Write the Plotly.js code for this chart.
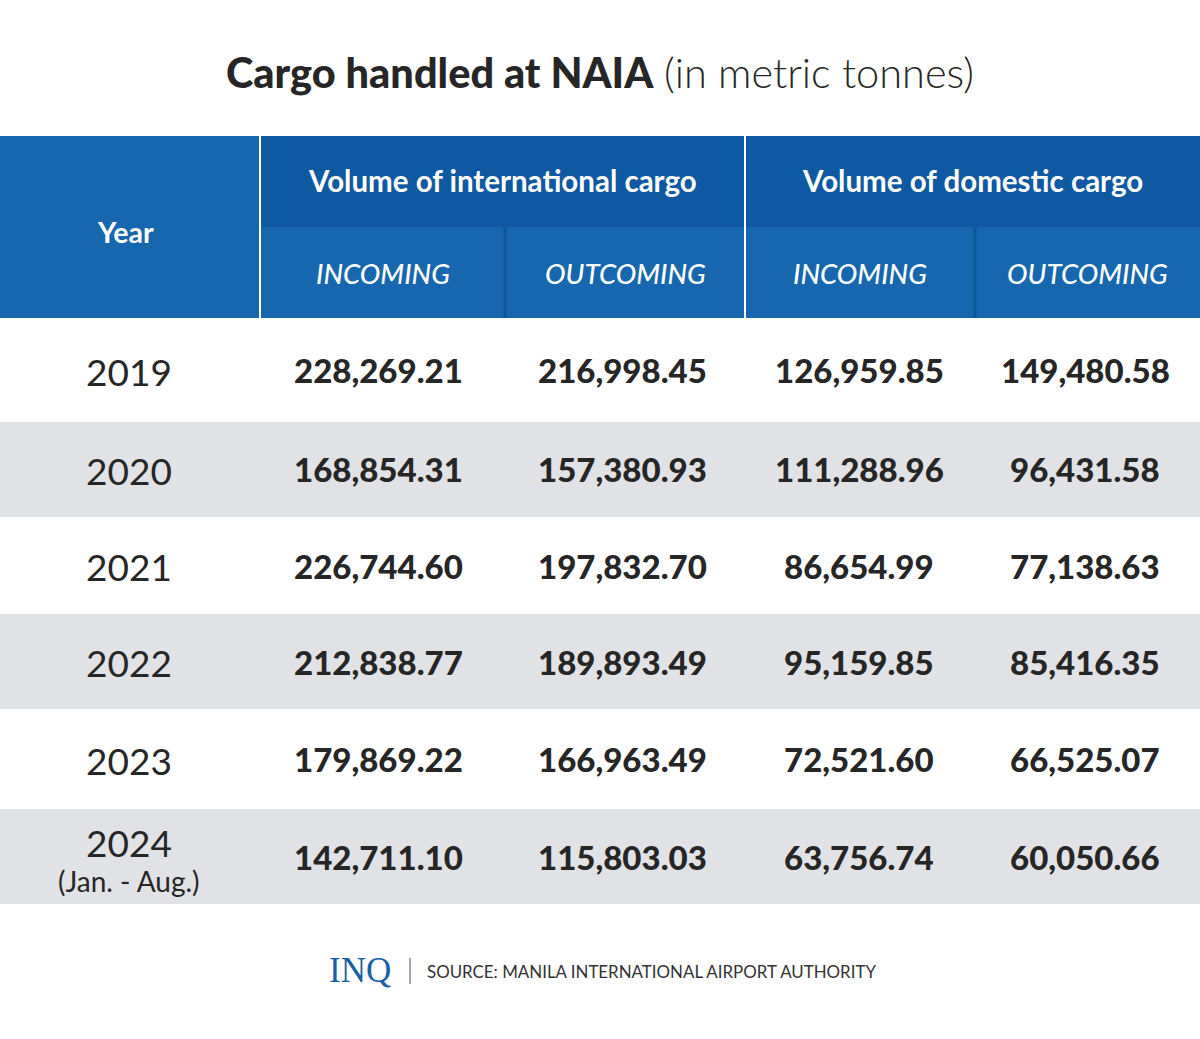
<!DOCTYPE html>
<html>
<head>
<meta charset="utf-8">
<script src="https://cdn.plot.ly/plotly-3.0.1.min.js"></script>
<style>html,body{margin:0;padding:0;background:#fff;}#chart{width:1200px;height:1039px;}</style>
</head>
<body>
<div id="chart"></div>
<script>
// ---- Data ----
const years = ['2019', '2020', '2021', '2022', '2023', '2024'];
const yearNotes = ['', '', '', '', '', '(Jan. - Aug.)'];
const intlIncoming = [228269.21, 168854.31, 226744.60, 212838.77, 179869.22, 142711.10];
const intlOutcoming = [216998.45, 157380.93, 197832.70, 189893.49, 166963.49, 115803.03];
const domIncoming = [126959.85, 111288.96, 86654.99, 95159.85, 72521.60, 63756.74];
const domOutcoming = [149480.58, 96431.58, 77138.63, 85416.35, 66525.07, 60050.66];
const groupHeaders = ['Volume of international cargo', 'Volume of domestic cargo'];
const subHeaders = ['INCOMING', 'OUTCOMING', 'INCOMING', 'OUTCOMING'];
const yearHeader = 'Year';
const titleMain = 'Cargo handled at NAIA';
const titleSub = '(in metric tonnes)';
const sourceText = 'SOURCE: MANILA INTERNATIONAL AIRPORT AUTHORITY';
const logoText = 'INQ';

// ---- Layout geometry / styles ----
const W = 1200, H = 1039;
const px = v => v / W;
const py = v => 1 - v / H;
const colEdges = [0, 260, 505, 745, 975, 1200];
const headerTop = 136, headerMid = 227, headerBottom = 318;
const rowEdges = [318, 422, 517, 614, 709, 809, 904];
const yearCenterX = 129;
const numCenterX = [378, 622, 859, 1085];
const blueLight = '#1767ae';
const blueDark = '#0e59a1';
const grayRow = '#e1e2e5';
const textDark = '#262626';
const FONT = 'Lato, "Open Sans", sans-serif';

const fmt = v => v.toLocaleString('en-US', {minimumFractionDigits: 2, maximumFractionDigits: 2});

const shapes = [];
const annotations = [];

function rect(x0, y0, x1, y1, color) {
  shapes.push({type: 'rect', xref: 'paper', yref: 'paper', x0: px(x0), x1: px(x1), y0: py(y1), y1: py(y0),
    fillcolor: color, line: {width: 0}, layer: 'below'});
}
function line(x0, y0, x1, y1, color, w) {
  shapes.push({type: 'line', xref: 'paper', yref: 'paper', x0: px(x0), x1: px(x1), y0: py(y0), y1: py(y1),
    line: {color: color, width: w}, layer: 'above'});
}
function text(t, x, y, font, opts) {
  annotations.push(Object.assign({text: t, xref: 'paper', yref: 'paper', x: px(x), y: py(y),
    xanchor: 'center', yanchor: 'middle', showarrow: false,
    font: Object.assign({family: FONT}, font)}, opts || {}));
}

// Header backgrounds
rect(0, headerTop, 1200, headerBottom, blueLight);
rect(colEdges[1], headerTop, 1200, headerMid, blueDark);
// subtle column separators in lower header band
line(colEdges[2], headerMid, colEdges[2], headerBottom, '#0f5797', 3);
line(colEdges[4], headerMid, colEdges[4], headerBottom, '#0f5797', 3);
// white separators
line(colEdges[1], headerTop, colEdges[1], headerBottom, '#ffffff', 2);
line(colEdges[3], headerTop, colEdges[3], headerBottom, '#ffffff', 2);

// Header text
text(yearHeader, 125, 232, {size: 28.5, color: '#ffffff', weight: 700});
text(groupHeaders[0], (colEdges[1] + colEdges[3]) / 2, 180, {size: 29.5, color: '#ffffff', weight: 700});
text(groupHeaders[1], (colEdges[3] + colEdges[5]) / 2, 180, {size: 29.5, color: '#ffffff', weight: 700});
subHeaders.forEach((h, i) => {
  text(h, (colEdges[i + 1] + colEdges[i + 2]) / 2, 273, {size: 27.5, color: '#ffffff', style: 'italic', weight: 500});
});

// Body rows
const series = [intlIncoming, intlOutcoming, domIncoming, domOutcoming];
years.forEach((yr, r) => {
  const y0 = rowEdges[r], y1 = rowEdges[r + 1];
  if (r % 2 === 1) rect(0, y0, 1200, y1, grayRow);
  const cy = (y0 + y1) / 2;
  if (yearNotes[r]) {
    text(yr, yearCenterX, cy - 14, {size: 37, color: textDark, weight: 400});
    text(yearNotes[r], yearCenterX, cy + 24, {size: 28, color: textDark, weight: 400});
  } else {
    text(yr, yearCenterX, cy + 1, {size: 37, color: textDark, weight: 400});
  }
  series.forEach((s, c) => {
    text(fmt(s[r]), numCenterX[c], cy, {size: 33, color: textDark, weight: 900});
  });
});

// Footer
text(logoText, 360, 970, {family: '"Liberation Serif", "DejaVu Serif", serif', size: 35, color: '#1b5fa6'});
line(410, 958, 410, 984, '#888888', 1.5);
text(sourceText, 425, 971, {size: 16.9, color: '#333333'}, {xanchor: 'left'});

const layout = {
  width: W, height: H,
  margin: {l: 0, r: 0, t: 0, b: 0},
  paper_bgcolor: '#ffffff', plot_bgcolor: '#ffffff',
  title: {
    text: '<span style="font-weight:900">' + titleMain + '</span> <span style="font-weight:300">' + titleSub + '</span>',
    x: 0.5, xanchor: 'center', y: py(73), yanchor: 'middle', yref: 'container',
    font: {family: FONT, size: 41.5, color: textDark}
  },
  xaxis: {visible: false, range: [0, 1], fixedrange: true},
  yaxis: {visible: false, range: [0, 1], fixedrange: true},
  shapes: shapes,
  annotations: annotations,
  showlegend: false
};

Plotly.newPlot('chart', [], layout, {displayModeBar: false, staticPlot: true});
</script>
</body>
</html>
